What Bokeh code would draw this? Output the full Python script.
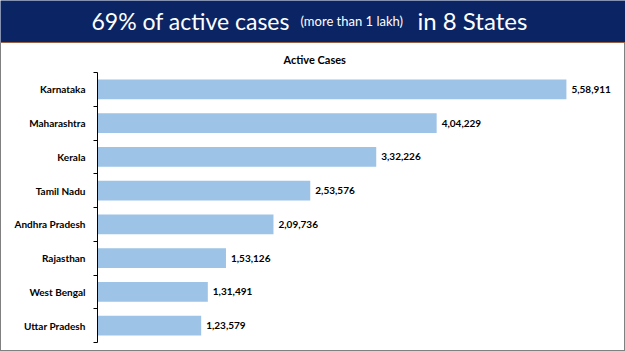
from bokeh.plotting import figure
from bokeh.models import Range1d, FixedTicker, LinearAxis, ColumnDataSource, Span
from bokeh.layouts import column
from bokeh.core.properties import value
from bokeh.embed import file_html
from bokeh.resources import INLINE

# ---- data ----
states = ["Karnataka", "Maharashtra", "Kerala", "Tamil Nadu",
          "Andhra Pradesh", "Rajasthan", "West Bengal", "Uttar Pradesh"]
active_cases = [558911, 404229, 332226, 253576, 209736, 153126, 131491, 123579]
chart_title = "Active Cases"
header_parts = ["69% of active cases", "(more than 1 lakh)", "in 8 States"]


def indian_format(n):
    s = str(int(n))
    if len(s) <= 3:
        return s
    last3 = s[-3:]
    rest = s[:-3]
    groups = []
    while len(rest) > 2:
        groups.insert(0, rest[-2:])
        rest = rest[:-2]
    if rest:
        groups.insert(0, rest)
    return ",".join(groups) + "," + last3


FONT = "Lato"
W = 625
HEADER_H = 43
CHART_H = 351 - HEADER_H

# ---- header ----
h = figure(width=W, height=HEADER_H, x_range=Range1d(0, W), y_range=Range1d(0, HEADER_H),
           toolbar_location=None, output_backend="svg", min_border=0,
           x_axis_location=None, y_axis_location=None,
           background_fill_color="#0B2463", border_fill_color="#0B2463", outline_line_color=None)
h.frame_align = False
h.xgrid.visible = False
h.ygrid.visible = False
base_y = HEADER_H - 20
h.text(x=[91], y=[base_y], text=[header_parts[0]], text_color="white", text_font=value(FONT),
       text_font_size="23px", text_baseline="alphabetic", text_align="left")
h.text(x=[300], y=[base_y], text=[header_parts[1]], text_color="white", text_font=value(FONT),
       text_font_size="13px", text_baseline="alphabetic", text_align="left")
h.text(x=[417], y=[base_y], text=[header_parts[2]], text_color="white", text_font=value(FONT),
       text_font_size="24px", text_baseline="alphabetic", text_align="left")
h.add_layout(Span(location=0.6, dimension="width", line_color="#C8773A", line_width=1.5))

# ---- chart ----
n = len(states)
pos = [i + 0.5 for i in range(n)]
labels = [indian_format(v) for v in active_cases]
src = ColumnDataSource(dict(y=pos, v=active_cases, lab=labels))

p = figure(width=W, height=CHART_H, x_range=Range1d(0, 618600), y_range=Range1d(n, 0),
           toolbar_location=None, output_backend="svg",
           min_border_left=96, min_border_right=10, min_border_top=29, min_border_bottom=9,
           x_axis_location=None, outline_line_color=None,
           title=chart_title)
p.frame_align = False
p.title.align = "left"
p.title.offset = 186
p.title.standoff = 13
p.title.text_font = FONT
p.title.text_font_size = "11px"
p.title.text_font_style = "bold"
p.title.text_color = "black"
p.xgrid.visible = False
p.ygrid.visible = False

p.hbar(y="y", right="v", left=0, height=0.58, source=src,
       fill_color="#9DC3E6", line_color=None)
p.text(x="v", y="y", text="lab", source=src, x_offset=5, text_baseline="middle",
       text_align="left", text_font=value(FONT), text_font_size="10px",
       text_font_style="bold", text_color="black")

ya = p.yaxis[0]
ya.ticker = FixedTicker(ticks=list(range(n + 1)), minor_ticks=[])
ya.major_label_overrides = {i: "" for i in range(n + 1)}
ya.major_tick_in = 0
ya.major_tick_out = 4
ya.major_label_standoff = 0
ya.axis_line_color = "black"
ya.major_tick_line_color = "black"

la = LinearAxis(ticker=FixedTicker(ticks=pos, minor_ticks=[]),
                major_label_overrides={pos[i]: states[i] for i in range(n)},
                major_tick_in=0, major_tick_out=0, axis_line_color=None,
                major_label_standoff=8,
                major_label_text_font=FONT, major_label_text_font_size="10px",
                major_label_text_font_style="bold", major_label_text_color="black")
p.add_layout(la, "left")

p.styles = {"border-left": "1px solid #808080", "border-right": "1px solid #808080",
            "border-bottom": "1px solid #808080", "box-sizing": "border-box"}

layout = column(h, p, spacing=0)
open("out.html", "w").write(file_html(layout, INLINE))
